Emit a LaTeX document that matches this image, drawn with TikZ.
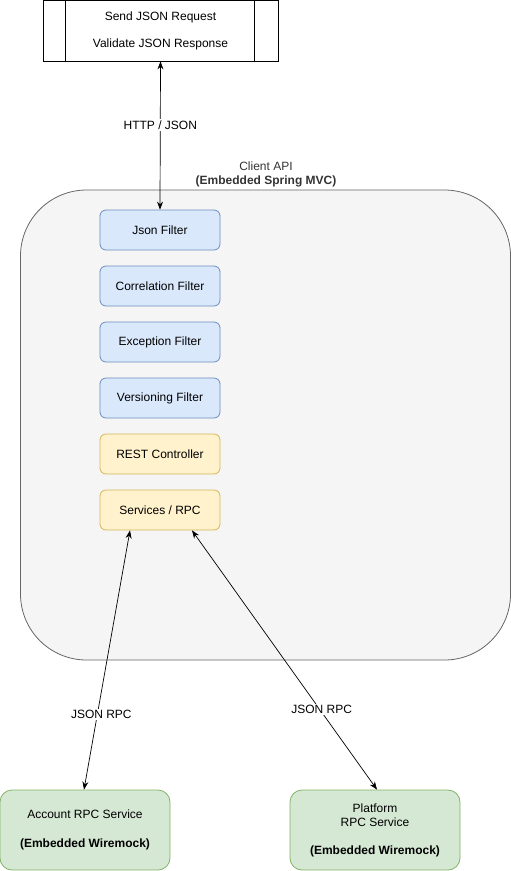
\documentclass[tikz,border=0pt]{standalone}
\usepackage{fontspec}
\setmainfont{Liberation Sans}
\usetikzlibrary{arrows.meta}
\definecolor{blfill}{HTML}{DAE8FC}
\definecolor{blline}{HTML}{6C8EBF}
\definecolor{yefill}{HTML}{FFF2CC}
\definecolor{yeline}{HTML}{D6B656}
\definecolor{grfill}{HTML}{D5E8D4}
\definecolor{grline}{HTML}{82B366}
\definecolor{bgfill}{HTML}{F5F5F5}
\definecolor{bgline}{HTML}{666666}
\definecolor{txtgray}{HTML}{333333}
\tikzset{
  txt/.style={font=\fontsize{12}{14}\selectfont},
  filterbox/.style={txt, draw=blline, fill=blfill, rounded corners=6pt, minimum width=120pt, minimum height=40pt, inner sep=0pt, line width=0.8pt},
  ctrlbox/.style={txt, draw=yeline, fill=yefill, rounded corners=6pt, minimum width=120pt, minimum height=40pt, inner sep=0pt, line width=0.8pt},
  svcbox/.style={txt, draw=grline, fill=grfill, rounded corners=12pt, minimum width=170pt, minimum height=80pt, inner sep=0pt, align=center, line width=0.8pt},
  conn/.style={{Stealth[length=8pt,width=6pt]}-{Stealth[length=8pt,width=6pt]}, line width=0.7pt},
  lbl/.style={txt, fill=white, inner sep=1.5pt}
}
\begin{document}
\begin{tikzpicture}[x=1pt,y=-1pt]
\useasboundingbox (0,0) rectangle (511,871);
% client API container
\node (api) [draw=bgline, fill=bgfill, rounded corners=66pt, minimum width=490pt, minimum height=470pt, inner sep=0pt, line width=0.8pt] at (265.5,425) {};
\node (apilbl) [txt, text=txtgray, align=center] at (266,174) {Client API\\\textbf{(Embedded Spring MVC)}};
% top process box
\node (top) [txt, draw=black, fill=white, minimum width=235pt, minimum height=61pt, inner sep=0pt, align=center, line width=0.8pt] at (160.5,30.5) {Send JSON Request\\[13pt]Validate JSON Response};
\draw[line width=0.8pt] ([xshift=23pt]top.north west) -- ([xshift=23pt]top.south west);
\draw[line width=0.8pt] ([xshift=-24pt]top.north east) -- ([xshift=-24pt]top.south east);
% filters
\node (json) [filterbox] at (160,230) {Json Filter};
\node (corr) [filterbox] at (160,286) {Correlation Filter};
\node (exc) [filterbox] at (160,342) {Exception Filter};
\node (ver) [filterbox] at (160,398) {Versioning Filter};
\node (rest) [ctrlbox] at (160,454) {REST Controller};
\node (svc) [ctrlbox] at (160,510) {Services / RPC};
% external services
\node (acc) [svcbox] at (85,830) {Account RPC Service\\[15pt]\textbf{(Embedded Wiremock)}};
\node (plat) [svcbox] at (375,830) {Platform\\RPC Service\\[14pt]\textbf{(Embedded Wiremock)}};
% connectors
\draw[conn] (top.south) -- node[lbl, pos=0.43] {HTTP / JSON} (json.north);
\draw[conn] ([xshift=-30pt]svc.south) -- node[lbl, pos=0.71, xshift=4pt] {JSON RPC} ([xshift=-1pt]acc.north);
\draw[conn] ([xshift=32pt]svc.south) -- node[lbl, pos=0.69, xshift=2pt] {JSON RPC} ([xshift=2pt]plat.north);
\end{tikzpicture}
\end{document}
